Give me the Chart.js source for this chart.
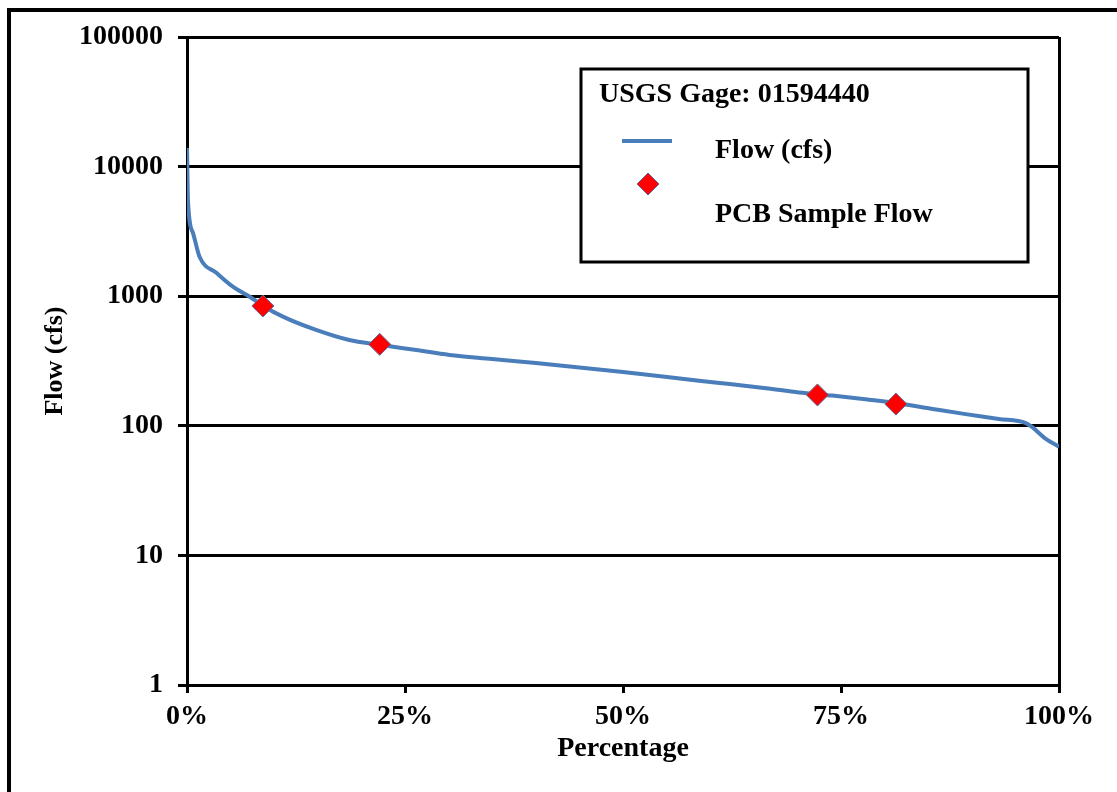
<!DOCTYPE html>
<html>
<head>
<meta charset="utf-8">
<title>USGS Gage 01594440 - Flow Duration</title>
<script src="https://cdn.jsdelivr.net/npm/chart.js@4.4.1/dist/chart.umd.min.js"></script>
<style>
  html, body { margin: 0; padding: 0; background: #fff; }
  #wrap { width: 1117px; height: 792px; }
</style>
</head>
<body>
<div id="wrap"><canvas id="flowChart" width="1117" height="792"></canvas></div>
<script>
// flow duration curve (percent of time exceeded vs flow)
const flowPct = [0, 0.11, 0.69, 1.45, 3.4, 5.3, 7.2, 8.7, 11.0, 14.8, 18.6, 22.1, 26.3, 30.1, 35, 40, 50, 58.7, 62.5, 66.4, 70.2, 74.0, 77.8, 81.3, 85.5, 89.3, 93.1, 96.2, 96.9, 98.4, 100];
const flowCfs = [13900, 5500, 3070, 2005, 1510, 1180, 990, 845, 695, 549, 459, 422, 384, 352, 328, 305, 260, 223, 209, 195, 181, 171, 160, 150, 135, 123, 113, 105, 98, 80, 69];

// PCB sampling events
const samplePct = [8.7, 22.1, 72.3, 81.3];
const sampleCfs = [840, 425, 173, 147];

const yTicks = [1, 10, 100, 1000, 10000, 100000];
const xTicks = [0, 25, 50, 75, 100];

const legendTitle = 'USGS Gage: 01594440';
const seriesNames = ['Flow (cfs)', 'PCB Sample Flow'];

const FONT = '"Liberation Serif", "Times New Roman", serif';
const lineColor = '#4a7ebb';
const diamondColor = '#ff0000';

const frameAndLegend = {
    id: 'frameAndLegend',
    beforeDraw(chart) {
        const c = chart.ctx;
        c.save();
        c.fillStyle = '#fff';
        c.fillRect(0, 0, chart.width, chart.height);
        c.strokeStyle = '#000';
        c.lineWidth = 4;
        c.beginPath();
        c.moveTo(9, chart.height + 5);
        c.lineTo(9, 10);
        c.lineTo(chart.width + 5, 10);
        c.stroke();
        c.restore();
    },
    afterDraw(chart) {
        const c = chart.ctx;
        c.save();
        // legend box
        c.fillStyle = '#fff';
        c.fillRect(581, 69, 447, 193);
        c.strokeStyle = '#000';
        c.lineWidth = 3;
        c.strokeRect(581, 69, 447, 193);

        c.fillStyle = '#000';
        c.font = 'bold 28px ' + FONT;
        c.textBaseline = 'alphabetic';
        c.fillText(legendTitle, 599, 102);
        c.fillText(seriesNames[0], 715, 158);
        c.fillText(seriesNames[1], 715, 222);

        // line sample
        c.strokeStyle = lineColor;
        c.lineWidth = 4;
        c.beginPath();
        c.moveTo(622, 141);
        c.lineTo(672, 141);
        c.stroke();

        // diamond sample
        c.fillStyle = diamondColor;
        c.strokeStyle = '#5a6fa0';
        c.lineWidth = 1;
        c.beginPath();
        c.moveTo(637, 184);
        c.lineTo(648, 173);
        c.lineTo(659, 184);
        c.lineTo(648, 195);
        c.closePath();
        c.fill();
        c.stroke();
        c.restore();
    }
};

const ctx = document.getElementById('flowChart').getContext('2d');

const flowChart = new Chart(ctx, {
    type: 'scatter',
    data: {
        datasets: [{
            label: seriesNames[1],
            data: samplePct.map((p, i) => ({ x: p, y: sampleCfs[i] })),
            pointStyle: 'rectRot',
            pointRadius: 11,
            backgroundColor: diamondColor,
            borderColor: '#5a6fa0',
            borderWidth: 1,
            showLine: false,
            order: 0
        }, {
            label: seriesNames[0],
            data: flowPct.map((p, i) => ({ x: p, y: flowCfs[i] })),
            showLine: true,
            borderColor: lineColor,
            borderWidth: 4,
            pointRadius: 0,
            cubicInterpolationMode: 'monotone',
            order: 1
        }]
    },
    options: {
        responsive: false,
        animation: false,
        layout: {
            padding: { top: 37, right: 58, left: 0, bottom: 0 }
        },
        plugins: {
            legend: { display: false },
            tooltip: { enabled: false }
        },
        scales: {
            x: {
                type: 'linear',
                min: 0,
                max: 100,
                afterBuildTicks: (scale) => {
                    scale.ticks = xTicks.map(v => ({ value: v }));
                },
                afterFit: (scale) => {
                    scale.height = 107;
                },
                ticks: {
                    color: '#000',
                    padding: 7,
                    maxRotation: 0,
                    font: { family: FONT, size: 28, weight: 'bold' },
                    callback: (value) => value + '%'
                },
                grid: {
                    drawOnChartArea: true,
                    color: (c) => c.index === xTicks.length - 1 ? '#000' : 'rgba(0,0,0,0)',
                    lineWidth: 3,
                    tickColor: '#000',
                    tickLength: 8
                },
                border: { color: '#000', width: 3 },
                title: {
                    display: true,
                    text: 'Percentage',
                    color: '#000',
                    font: { family: FONT, size: 28, weight: 'bold' },
                    padding: { top: 0, bottom: 26 }
                }
            },
            y: {
                type: 'logarithmic',
                min: 1,
                max: 100000,
                afterBuildTicks: (scale) => {
                    scale.ticks = yTicks.map(v => ({ value: v, major: true }));
                },
                afterFit: (scale) => {
                    scale.width = 187;
                },
                ticks: {
                    color: '#000',
                    padding: 15,
                    font: { family: FONT, size: 28, weight: 'bold' },
                    callback: (value) => String(value)
                },
                grid: {
                    color: '#000',
                    lineWidth: 3,
                    tickLength: 9
                },
                border: { color: '#000', width: 3 },
                title: {
                    display: true,
                    text: 'Flow (cfs)',
                    color: '#000',
                    font: { family: FONT, size: 26, weight: 'bold' },
                    padding: { top: 40, bottom: 0 }
                }
            }
        }
    },
    plugins: [frameAndLegend]
});
</script>
</body>
</html>
